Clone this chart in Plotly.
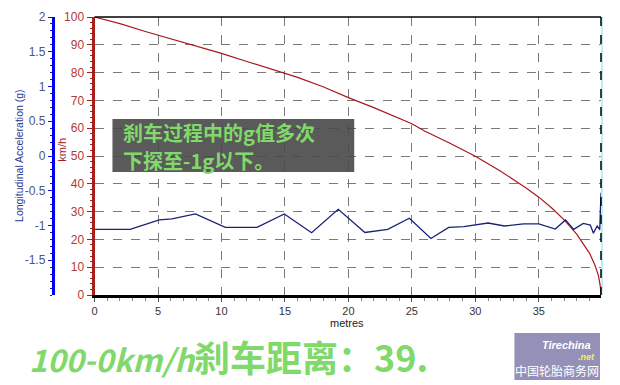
import plotly.graph_objects as go

# ---- data ----
speed_dist = [0, 2, 4, 6, 8, 10, 12, 14, 16, 18, 20, 22, 24, 25, 26, 28, 30, 32, 34, 35, 36, 37,
              38, 38.5, 39, 39.4, 39.7, 39.85, 39.9]
speed_kmh = [100, 97.6, 94.8, 92.2, 89.5, 86.9, 84.0, 81.2, 78.3, 74.9, 71.0, 67.4, 63.4, 61.6,
             59.0, 54.6, 49.9, 44.5, 38.5, 35.2, 31.4, 27.0, 21.8, 18.6, 15.0, 11.0, 7.0, 3.0, 0]

acc_dist = [0, 2.8, 5.1, 6.1, 7.95, 10.3, 12.8, 14.95, 17.1, 19.2, 21.3, 23.1, 24.8, 26.5, 27.9,
            29.1, 31.0, 32.3, 33.8, 35.0, 36.3, 37.1, 37.75, 38.5, 39.06, 39.3, 39.6, 39.8, 39.9]
acc_g = [-1.055, -1.055, -0.92, -0.906, -0.833, -1.027, -1.027, -0.833, -1.104, -0.766, -1.10,
         -1.055, -0.896, -1.186, -1.027, -1.017, -0.964, -1.007, -0.978, -0.978, -1.051, -0.92,
         -1.055, -0.969, -0.993, -1.11, -1.007, -1.06, -0.53]

x_ticks = [0, 5, 10, 15, 20, 25, 30, 35]
speed_ticks = [0, 10, 20, 30, 40, 50, 60, 70, 80, 90, 100]
g_ticks = [2, 1.5, 1, 0.5, 0, -0.5, -1, -1.5]
g_tick_text = ["2", "1.5", "1", "0.5", "0", "-0.5", "-1", "-1.5"]

W, H = 620, 385
ML, MR, MT, MB = 0, 19, 17, 90
PW = W - ML - MR
PH = H - MT - MB


def px(x):
    return (x - ML) / PW


def py(y):
    return (H - MB - y) / PH


FONT = "Liberation Sans"
CJK = "Noto Sans CJK SC"
RED = "#a8201c"
GREEN = "#80d96a"

fig = go.Figure()
fig.add_trace(go.Scatter(x=speed_dist, y=speed_kmh, mode="lines",
                         line=dict(color="#a8181c", width=1.2), yaxis="y", showlegend=False))
fig.add_trace(go.Scatter(x=acc_dist, y=acc_g, mode="lines",
                         line=dict(color="#1a2278", width=1.3), yaxis="y2", showlegend=False))

fig.update_layout(
    width=W, height=H,
    margin=dict(l=ML, r=MR, t=MT, b=MB, pad=0),
    paper_bgcolor="white", plot_bgcolor="white",
    font=dict(family=FONT, size=11, color="#333"),
    xaxis=dict(domain=[px(92), 1], range=[0, 39.9], tickvals=x_ticks,
               ticks="outside", ticklen=4, tickcolor="#555", tickfont=dict(size=11, color="#333"),
               showline=True, linecolor="black", linewidth=2.5,
               showgrid=True, gridcolor="#7a7a7a", griddash="dash", gridwidth=1,
               zeroline=False,
               minor=dict(dtick=1, ticks="outside", ticklen=3, tickcolor="#888", showgrid=False)),
    yaxis=dict(range=[0, 100], tickvals=speed_ticks, anchor="x",
               ticks="outside", ticklen=5, tickcolor=RED, tickfont=dict(size=12, color="#b03a34"),
               showline=True, linecolor=RED, linewidth=3,
               showgrid=True, gridcolor="#7a7a7a", griddash="dash", gridwidth=1,
               zeroline=False,
               minor=dict(dtick=2, ticks="outside", ticklen=2, tickcolor=RED, showgrid=False)),
    yaxis2=dict(range=[-2, 2], tickvals=g_ticks, ticktext=g_tick_text, overlaying="y",
                anchor="free", position=px(50), side="left",
                ticks="outside", ticklen=4, tickcolor="#1010e0",
                tickfont=dict(size=12, color="#4a5580"),
                showline=True, linecolor="#0000ee", linewidth=3,
                showgrid=False, zeroline=False,
                minor=dict(dtick=0.1, ticks="outside", ticklen=2, tickcolor="#1010e0", showgrid=False)),
)

shapes = [
    # top border
    dict(type="line", xref="paper", yref="paper", x0=px(92), x1=px(601), y0=py(17), y1=py(17),
         line=dict(color="black", width=1.5)),
    # right cursor line
    dict(type="line", xref="paper", yref="paper", x0=px(602), x1=px(602), y0=py(17), y1=py(295),
         line=dict(color="#bfeef0", width=2)),
    dict(type="line", xref="paper", yref="paper", x0=px(601), x1=px(601), y0=py(17), y1=py(295),
         line=dict(color="black", width=1.5, dash="dash")),
    # annotation box
    dict(type="rect", xref="paper", yref="paper", x0=px(110), x1=px(353), y0=py(172), y1=py(119),
         fillcolor="rgba(72,72,72,0.9)", line=dict(width=0)),
    # logo box
    dict(type="rect", xref="paper", yref="paper", x0=px(514), x1=px(600), y0=py(380), y1=py(333),
         fillcolor="rgba(130,124,172,0.85)", line=dict(width=0)),
]
fig.update_layout(shapes=shapes)

annotations = [
    dict(text="Longitudinal Acceleration (g)", x=px(16), y=py(155), textangle=-90,
         font=dict(size=10.5, color="#2b3a92", family=FONT)),
    dict(text="km/h", x=px(59), y=py(150), textangle=-90,
         font=dict(size=11, color=RED, family=FONT)),
    dict(text="metres", x=px(346), y=py(323), font=dict(size=11, color="#222", family=FONT)),
    dict(text="<b>刹车过程中的g值多次</b>", x=px(119), y=py(132), xanchor="left",
         font=dict(size=20, color=GREEN, family=CJK)),
    dict(text="<b>下探至-1g以下。</b>", x=px(119), y=py(160), xanchor="left",
         font=dict(size=20, color=GREEN, family=CJK)),
    dict(text="<b><i><span style=\"font-size:31px\">100-0km/h</span></i>刹车距离：39.</b>",
         x=px(24), y=py(356), xanchor="left",
         font=dict(size=36, color=GREEN, family=CJK)),
    dict(text="<b><i>Tirechina</i></b>", x=px(566), y=py(345),
         font=dict(size=11, color="white", family=FONT)),
    dict(text="<b><i>.net</i></b>", x=px(586), y=py(357),
         font=dict(size=9, color="#ffe860", family=FONT)),
    dict(text="中国轮胎商务网", x=px(557), y=py(370),
         font=dict(size=12, color="white", family=CJK)),
]
for a in annotations:
    a.update(xref="paper", yref="paper", showarrow=False)
    a.setdefault("xanchor", "center")
    a.setdefault("yanchor", "middle")
fig.update_layout(annotations=annotations)

fig.write_html("out.html")
